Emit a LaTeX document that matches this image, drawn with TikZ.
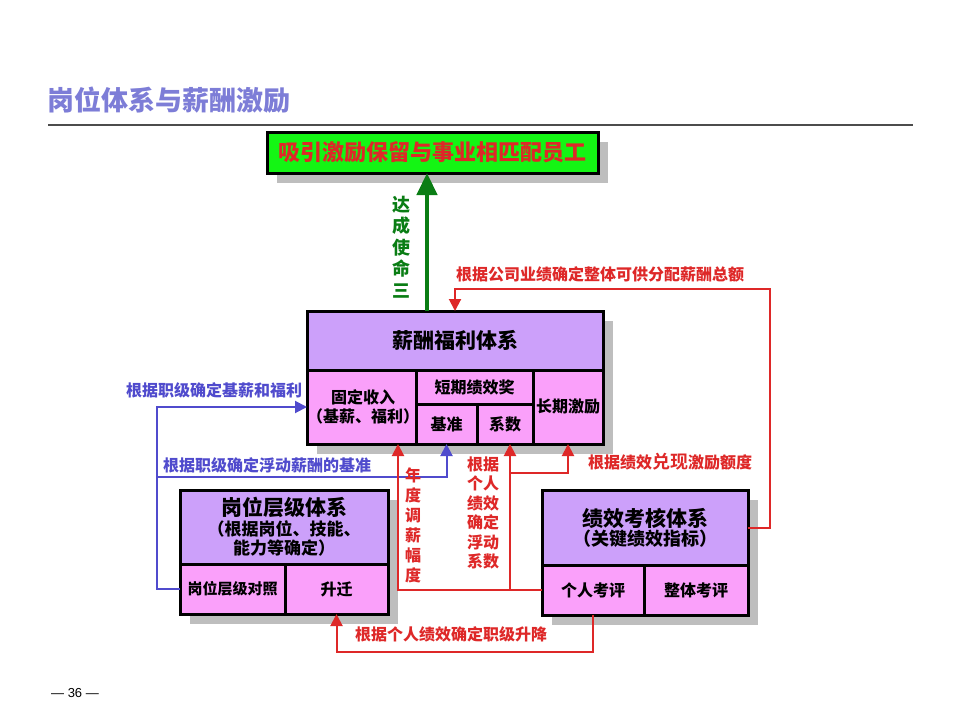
\documentclass[tikz,border=0pt]{standalone}
\usepackage{fontspec}
\setmainfont{Liberation Sans}
\newfontfamily\cjk{Noto Sans CJK SC}
\newfontfamily\cjkblack{Noto Sans CJK SC Black}
\usetikzlibrary{arrows.meta,calc}
\definecolor{titleblue}{RGB}{125,125,215}
\definecolor{myred}{RGB}{222,40,40}
\definecolor{myblue}{RGB}{80,75,205}
\definecolor{mygreen}{RGB}{10,125,20}
\definecolor{lav}{RGB}{204,160,250}
\definecolor{pinkc}{RGB}{250,160,250}
\definecolor{brightgreen}{RGB}{20,245,20}
\definecolor{shadowgray}{RGB}{190,190,190}
\begin{document}
\begin{tikzpicture}[x=1pt,y=-1pt,
  box/.style={draw=black,line width=3pt,inner sep=0pt,outer sep=0pt,anchor=north west,align=center,
    font=\cjkblack\fontsize{16}{19}\selectfont},
  lavbox/.style={box,fill=lav},
  pinkbox/.style={box,fill=pinkc},
  shadowrect/.style={fill=shadowgray,draw=none},
  redline/.style={draw=myred,line width=2pt,-{Triangle[width=12pt,length=12pt]}},
  blueline/.style={draw=myblue,line width=2pt,-{Triangle[width=12pt,length=12pt]}},
  greenline/.style={draw=mygreen,line width=4.5pt,-{Triangle[width=20pt,length=22pt]}},
  redlabel/.style={text=myred,font=\cjk\bfseries\fontsize{16}{19}\selectfont,inner sep=0pt},
  bluelabel/.style={text=myblue,font=\cjk\bfseries\fontsize{16}{19}\selectfont,inner sep=0pt},
]
\useasboundingbox[fill=white] (0,0) rectangle (960,720);

% title
\node[anchor=west,text=titleblue,font=\cjkblack\fontsize{27}{30}\selectfont,inner sep=0pt] (title) at (47,100) {岗位体系与薪酬激励};
\draw[black!70,line width=1.2pt] (48,125) -- (913,125);

% shadows
\fill[shadowrect] (277,142) rectangle (608,183);
\fill[shadowrect] (317,321) rectangle (613,454);
\fill[shadowrect] (190,500) rectangle (398,624);
\fill[shadowrect] (552,500) rectangle (758,625);

% goal box
\node[box,fill=brightgreen,minimum width=331pt,minimum height=41pt,
  font=\cjkblack\fontsize{22}{24}\selectfont,text=myred] (gb) at (267,132) {吸引激励保留与事业相匹配员工};

% compensation system
\node[lavbox,minimum width=296pt,minimum height=59pt,font=\cjkblack\fontsize{21}{24}\selectfont] (xc) at (307,311) {薪酬福利体系};
\node[pinkbox,minimum width=109pt,minimum height=74pt] (gd) at (307,370) {固定收入\\（基薪、福利）};
\node[pinkbox,minimum width=117pt,minimum height=34pt] (dq) at (416,370) {短期绩效奖};
\node[pinkbox,minimum width=61pt,minimum height=40pt] (jz) at (416,404) {基准};
\node[pinkbox,minimum width=56pt,minimum height=40pt] (xs) at (477,404) {系数};
\node[pinkbox,minimum width=70pt,minimum height=74pt] (cq) at (533,370) {长期激励};

% position grade system
\node[lavbox,minimum width=208pt,minimum height=74pt] (gw) at (180,490)
  {{\fontsize{21}{23}\selectfont 岗位层级体系}\\[1pt]
   {\fontsize{17}{22}\selectfont （根据岗位、技能、}\\
   {\fontsize{17}{22}\selectfont 能力等确定）}};
\node[pinkbox,minimum width=105pt,minimum height=50pt,font=\cjkblack\fontsize{15}{18}\selectfont] (dz) at (180,564) {岗位层级对照};
\node[pinkbox,minimum width=103pt,minimum height=50pt] (sq) at (285,564) {升迁};

% performance system
\node[lavbox,minimum width=206pt,minimum height=75pt] (kh) at (542,490)
  {{\fontsize{21}{24}\selectfont 绩效考核体系}\\
   {\fontsize{18}{24}\selectfont （关键绩效指标）}};
\node[pinkbox,minimum width=102pt,minimum height=50pt] (gp) at (542,565) {个人考评};
\node[pinkbox,minimum width=104pt,minimum height=50pt] (zt) at (644,565) {整体考评};

% green arrow
\draw[greenline] ([xshift=-28pt]xc.north) -- ([xshift=-28pt]xc.north |- gb.south);
\node[text=mygreen,font=\cjk\bfseries\fontsize{18}{21.5}\selectfont,align=center,inner sep=0pt] (dc) at (401,247) {达\\成\\使\\命\\三};

% red: company performance -> total
\coordinate (rt) at (770,289);
\draw[redline] (kh.east) -| (rt) -| (xc.north);
\node[redlabel] (l3) at (600,274) {根据公司业绩确定整体可供分配薪酬总额};

% blue arrows
\draw[blueline] (dz.west) -- ++(-23,0) |- (gd.west);
\node[bluelabel] (l1) at (214,390) {根据职级确定基薪和福利};
\coordinate (bj) at (157,477);
\draw[blueline] (bj) -| (jz.south);
\node[bluelabel] (l2) at (267,465) {根据职级确定浮动薪酬的基准};

% red: individual appraisal -> fixed income, coefficient, long-term
\draw[redline] (gp.west) -| ([xshift=35pt]gd.south);
\coordinate (rb) at ($(gp.west)+(-32,0)$);
\draw[redline] (rb) -- (rb |- xs.south);
\coordinate (rc) at (510,473);
\draw[redline] (rc) -| (cq.south);
\node[text=myred,font=\cjk\bfseries\fontsize{16}{20}\selectfont,align=center,inner sep=0pt] (l6) at (413,525) {年\\度\\调\\薪\\幅\\度};
\node[text=myred,font=\cjk\bfseries\fontsize{16}{19.5}\selectfont,align=center,inner sep=0pt] (l7) at (483,513) {根据\\个人\\绩效\\确定\\浮动\\系数};
\node[redlabel] (l4) at (670,462) {根据绩效{\cjkblack\fontsize{18}{19}\selectfont 兑现}激励额度};

% red: individual appraisal -> promotion
\draw[redline] (gp.south) -- ++(0,37) -| (sq.south);
\node[redlabel] (l5) at (451,634) {根据个人绩效确定职级升降};

% page number
\node[font=\fontsize{13}{15}\selectfont,inner sep=0pt] (pg) at (75,693) {— 36 —};
\end{tikzpicture}
\end{document}
